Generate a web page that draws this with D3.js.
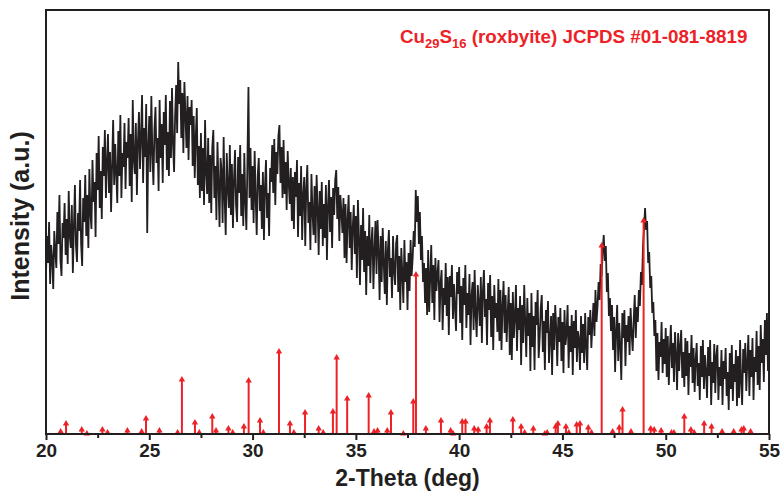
<!DOCTYPE html>
<html>
<head>
<meta charset="utf-8">
<script src="https://cdn.jsdelivr.net/npm/d3@7"></script>
<style>
body { margin: 0; background: #fff; }
text { font-family: "Liberation Sans", Arial, sans-serif; font-weight: bold; }
</style>
</head>
<body>
<svg id="chart" width="780" height="493"></svg>
<script>
// measured pattern, one value every 0.05 deg from 20.0 to 55.0 (read off the plot)
// one row = half a degree
var theta_start = 20
var theta_step = 0.05
var intensity = [
    160, 198, 171, 212, 150, 189, 176, 145, 203, 183,
    166, 222, 190, 239, 174, 158, 211, 196, 231, 179,
    215, 170, 243, 198, 186, 229, 161, 207, 249, 189,
    172, 221, 203, 254, 190, 168, 236, 212, 259, 198,
    239, 186, 265, 221, 205, 274, 232, 252, 197, 281,
    244, 298, 226, 263, 215, 287, 258, 304, 236, 271,
    300, 241, 282, 222, 268, 314, 249, 290, 261, 231,
    303, 258, 319, 236, 281, 267, 311, 245, 292, 276,
    316, 248, 300, 232, 334, 274, 260, 311, 239, 292,
    322, 265, 297, 339, 251, 306, 277, 330, 201, 289,
    318, 262, 338, 280, 249, 305, 327, 271, 296, 243,
    334, 276, 310, 251, 322, 289, 339, 264, 302, 258,
    333, 276, 346, 290, 262, 318, 349, 301, 372, 330,
    354, 296, 341, 281, 352, 319, 286, 338, 274, 327,
    309, 334, 268, 318, 256, 297, 326, 249, 288, 236,
    301, 243, 286, 229, 314, 262, 240, 296, 231, 279,
    221, 287, 304, 236, 268, 214, 292, 251, 207, 276,
    263, 211, 297, 235, 199, 281, 246, 226, 289, 219,
    270, 206, 254, 284, 229, 212, 277, 241, 289, 218,
    260, 208, 281, 233, 204, 271, 347, 236, 286, 224,
    268, 211, 283, 237, 199, 259, 276, 223, 249, 205,
    262, 194, 248, 274, 216, 241, 198, 266, 252, 289,
    241, 295, 229, 282, 260, 298, 309, 251, 287, 236,
    294, 240, 272, 224, 283, 251, 230, 266, 213, 257,
    205, 262, 237, 274, 197, 251, 218, 268, 194, 239,
    257, 188, 246, 269, 211, 232, 184, 260, 222, 199,
    248, 191, 259, 226, 179, 243, 205, 252, 188, 230,
    196, 249, 174, 228, 254, 202, 237, 186, 246, 219,
    254, 264, 215, 247, 193, 239, 222, 201, 236, 176,
    230, 171, 214, 239, 186, 222, 164, 207, 229, 180,
    218, 156, 234, 197, 149, 209, 174, 226, 162, 203,
    139, 198, 168, 219, 151, 191, 207, 145, 184, 213,
    160, 214, 184, 134, 198, 152, 206, 171, 140, 193,
    129, 184, 204, 157, 176, 136, 198, 163, 149, 191,
    199, 142, 178, 124, 186, 160, 131, 194, 152, 172,
    124, 181, 143, 194, 158, 176, 203, 187, 244, 212,
    238, 190, 222, 174, 198, 152, 171, 131, 166, 119,
    184, 122, 158, 189, 131, 169, 114, 176, 143, 160,
    174, 112, 151, 164, 104, 146, 129, 171, 118, 157,
    99, 158, 137, 169, 115, 150, 126, 103, 162, 140,
    167, 111, 148, 94, 156, 129, 169, 106, 141, 119,
    160, 89, 138, 152, 104, 164, 118, 97, 149, 131,
    108, 157, 91, 143, 164, 117, 135, 89, 151, 124,
    159, 97, 138, 84, 149, 116, 131, 102, 155, 93,
    144, 84, 128, 153, 101, 139, 92, 121, 147, 79,
    131, 74, 142, 96, 117, 149, 83, 126, 104, 138,
    69, 129, 91, 149, 112, 77, 136, 98, 121, 63,
    141, 87, 118, 64, 132, 109, 144, 76, 97, 126,
    139, 82, 113, 64, 124, 101, 133, 71, 96, 118,
    59, 121, 84, 129, 106, 68, 117, 92, 126, 73,
    112, 61, 124, 89, 101, 129, 66, 108, 82, 119,
    59, 113, 86, 124, 72, 103, 95, 64, 118, 81,
    110, 71, 121, 88, 64, 117, 99, 124, 86, 109,
    131, 98, 144, 112, 128, 152, 134, 170, 158, 184,
    199, 173, 188, 142, 161, 118, 136, 103, 129, 84,
    117, 62, 104, 129, 73, 111, 88, 54, 121, 96,
    124, 68, 109, 92, 118, 79, 126, 101, 83, 114,
    139, 96, 127, 112, 144, 128, 162, 149, 188, 205,
    226, 204, 213, 171, 182, 146, 158, 121, 132, 98,
    114, 63, 101, 54, 92, 77, 112, 61, 95, 70,
    106, 57, 98, 49, 84, 109, 66, 91, 52, 102,
    79, 44, 101, 63, 88, 104, 56, 82, 47, 96,
    58, 93, 39, 81, 67, 99, 51, 86, 42, 74,
    91, 48, 71, 34, 88, 57, 94, 45, 79, 62,
    36, 87, 58, 94, 29, 72, 51, 90, 41, 78,
    89, 34, 67, 48, 84, 29, 73, 55, 86, 38,
    62, 24, 81, 45, 89, 33, 70, 52, 84, 28,
    78, 36, 94, 52, 29, 85, 61, 91, 43, 72,
    99, 38, 84, 57, 96, 34, 77, 62, 103, 49,
    88, 44, 109, 71, 95, 52, 114, 79, 121, 63,
    118
]

// Cu29S16 (roxbyite) reference lines
var ref_theta = [20.71, 20.97, 21.73, 21.98, 22.73, 22.98, 23.94, 24.63, 24.84, 25.49,
    26.37, 26.58, 27.21, 27.42, 28.05, 28.23, 28.83, 29.04, 29.58, 29.81,
    30.36, 30.52, 31.28, 31.81, 32.00, 32.54, 33.20, 33.42, 33.89, 34.07,
    34.58, 35.62, 35.88, 36.05, 36.52, 36.70, 37.30, 37.78, 37.91, 38.39,
    39.12, 39.59, 39.71, 40.15, 40.31, 40.73, 40.92, 41.33, 41.49, 42.60,
    43.00, 43.17, 43.59, 44.15, 44.26, 44.67, 44.78, 45.17, 45.31, 45.69,
    45.85, 46.25, 46.41, 46.90, 47.43, 47.75, 47.91, 48.32, 48.93, 49.27,
    49.44, 49.78, 50.28, 50.40, 50.90, 51.22, 51.38, 51.86, 52.22, 52.73,
    53.29, 53.67, 53.78, 54.11]
var ref_intensity = [5, 13, 7, 3, 7, 4, 6, 5, 18, 6,
    4, 57, 14, 4, 20, 6, 8, 4, 10, 56,
    16, 4, 85, 13, 4, 24, 8, 4, 25, 79,
    38, 41, 5, 6, 6, 24, 3, 35, 162, 8,
    16, 6, 3, 15, 15, 8, 7, 10, 16, 17,
    10, 4, 8, 3, 4, 10, 13, 10, 4, 12,
    13, 9, 4, 191, 5, 9, 27, 5, 216, 8,
    7, 6, 4, 4, 20, 7, 4, 13, 10, 5,
    5, 7, 8, 5]

var x_ticks = [20, 25, 30, 35, 40, 45, 50, 55]
var x_minor = [22.5, 27.5, 32.5, 37.5, 42.5, 47.5, 52.5]

var width = 780
var height = 493
var margin = {top: 10, right: 11, bottom: 59, left: 46}

var svg = d3.select("#chart")

var x = d3.scaleLinear()
    .domain([20, 55])
    .range([margin.left, width - margin.right])

var y = d3.scaleLinear()
    .domain([0, 424])
    .range([height - margin.bottom, margin.top])

var pattern = intensity.map(function(v, i) { return [theta_start + i * theta_step, v] })

svg.append("clipPath").attr("id", "plot_clip")
    .append("rect")
    .attr("x", margin.left)
    .attr("y", margin.top)
    .attr("width", width - margin.left - margin.right)
    .attr("height", height - margin.top - margin.bottom)

// the measured curve
var line = d3.line()
    .x(function(d) { return x(d[0]) })
    .y(function(d) { return y(d[1]) })

svg.append("path")
    .datum(pattern)
    .attr("clip-path", "url(#plot_clip)")
    .attr("d", line)
    .attr("fill", "none")
    .attr("stroke", "#231f20")
    .attr("stroke-width", 1.8)
    .attr("stroke-linejoin", "bevel")

// reference sticks with an arrow head on top
var ref_color = "#ec2227"
var refs = ref_theta.map(function(t, i) { return [t, ref_intensity[i]] })

svg.selectAll("line.ref").data(refs).join("line")
    .attr("class", "ref")
    .attr("x1", function(d) { return x(d[0]) })
    .attr("x2", function(d) { return x(d[0]) })
    .attr("y1", y(0))
    .attr("y2", function(d) { return y(d[1]) + 2 })
    .attr("stroke", ref_color)
    .attr("stroke-width", 2)

svg.selectAll("path.ref_head").data(refs).join("path")
    .attr("class", "ref_head")
    .attr("transform", function(d) { return "translate(" + x(d[0]) + "," + y(d[1]) + ")" })
    .attr("d", "M0,-1L3.2,4.5L-3.2,4.5Z")
    .attr("fill", ref_color)

// axes: bottom ticks only, frame drawn as a box
var x_axis = svg.append("g")
    .attr("transform", "translate(0," + y(0) + ")")
    .call(d3.axisBottom(x).tickValues(x_ticks).tickSize(6).tickPadding(4).tickFormat(d3.format("d")))
x_axis.select(".domain").remove()
x_axis.selectAll("line").attr("stroke", "#231f20").attr("stroke-width", 2)
x_axis.selectAll("text")
    .attr("fill", "#231f20")
    .style("font-size", "19px")

var x_axis_minor = svg.append("g")
    .attr("transform", "translate(0," + y(0) + ")")
    .call(d3.axisBottom(x).tickValues(x_minor).tickSize(4).tickFormat(""))
x_axis_minor.select(".domain").remove()
x_axis_minor.selectAll("line").attr("stroke", "#231f20").attr("stroke-width", 2)

svg.append("rect")
    .attr("x", margin.left)
    .attr("y", margin.top)
    .attr("width", width - margin.left - margin.right)
    .attr("height", height - margin.top - margin.bottom)
    .attr("fill", "none")
    .attr("stroke", "#231f20")
    .attr("stroke-width", 2)

// axis titles
svg.append("text")
    .attr("x", (margin.left + width - margin.right) / 2)
    .attr("y", 486)
    .attr("text-anchor", "middle")
    .attr("fill", "#231f20")
    .style("font-size", "23px")
    .text("2-Theta (deg)")

svg.append("text")
    .attr("transform", "translate(29," + 216 + ") rotate(-90)")
    .attr("text-anchor", "middle")
    .attr("fill", "#231f20")
    .style("font-size", "25px")
    .text("Intensity (a.u.)")

// reference card label
var label = svg.append("text")
    .attr("x", 400)
    .attr("y", 43)
    .attr("fill", ref_color)
    .style("font-size", "18.8px")
label.append("tspan").text("Cu")
label.append("tspan").attr("dy", 5).style("font-size", "13px").text("29")
label.append("tspan").attr("dy", -5).text("S")
label.append("tspan").attr("dy", 5).style("font-size", "13px").text("16")
label.append("tspan").attr("dy", -5).text(" (roxbyite) JCPDS #01-081-8819")
</script>
</body>
</html>
